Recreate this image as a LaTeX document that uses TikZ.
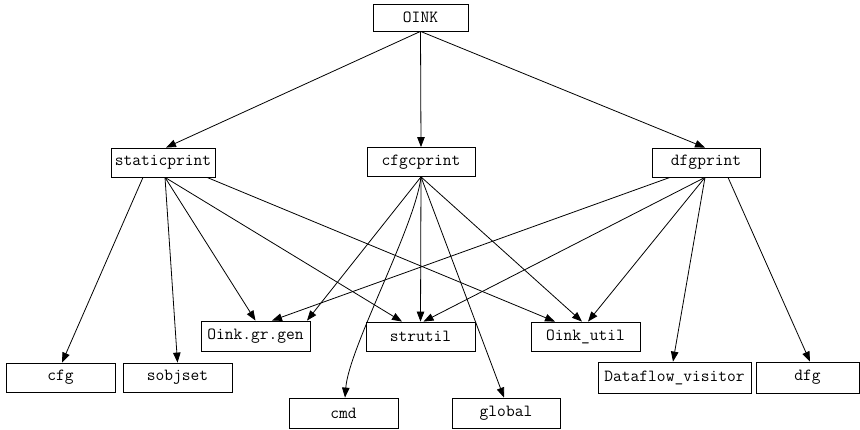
\documentclass[tikz,border=0pt]{standalone}
\usetikzlibrary{arrows.meta}
\begin{document}
\begin{tikzpicture}[x=1pt,y=-1pt,
  box/.style={draw,line width=0.8pt,minimum height=29pt,inner sep=0pt,font=\fontsize{17}{19}\selectfont\ttfamily},
  edge/.style={line width=0.8pt,-{Triangle[length=10pt,width=7.5pt]}}]
\useasboundingbox (0,0) rectangle (860,430);
\node[box,minimum width=95pt,minimum height=27pt] (oink) at (420.5,17.5) {OINK};
\node[box,minimum width=104pt] (sp) at (163,162.5) {staticprint};
\node[box,minimum width=108pt] (cp) at (421,162) {cfgcprint};
\node[box,minimum width=108pt] (dp) at (706,162.5) {dfgprint};
\node[box,minimum width=109pt,minimum height=30pt] (gr) at (255.5,336) {Oink.gr.gen};
\node[box,minimum width=109pt] (su) at (420.5,336.5) {strutil};
\node[box,minimum width=109pt] (ou) at (585.5,336.5) {Oink\_util};
\node[box,minimum width=109pt] (cfg) at (60.5,377.5) {cfg};
\node[box,minimum width=109pt] (so) at (177.5,377.5) {sobjset};
\node[box,minimum width=109pt,minimum height=30pt] (cmd) at (343.5,413) {cmd};
\node[box,minimum width=108pt,minimum height=30pt] (gl) at (506,413) {global};
\node[box,minimum width=153pt,minimum height=31pt] (dv) at (674.5,377.5) {Dataflow\_visitor};
\node[box,minimum width=103pt,minimum height=31pt] (dfg) at (807.5,377.5) {dfg};
% OINK
\draw[edge] (oink.south) -- ([xshift=3pt]sp.north);
\draw[edge] (oink.south) -- (cp.north);
\draw[edge] (oink.south) -- ([xshift=-1pt]dp.north);
% staticprint
\draw[edge] ([xshift=-20pt]sp.south) -- ([xshift=1.5pt]cfg.north);
\draw[edge] ([xshift=2pt]sp.south) -- (so.north);
\draw[edge] ([xshift=2pt]sp.south) -- (gr.north);
\draw[edge] ([xshift=2pt]sp.south) -- ([xshift=-18.5pt]su.north);
\draw[edge] ([xshift=44pt]sp.south) -- ([xshift=-30.5pt]ou.north);
% cfgcprint
\draw[edge] (cp.south) -- ([xshift=51.5pt]gr.north);
\draw[edge] (cp.south) -- (su.north);
\draw[edge] (cp.south) -- ([xshift=-3.5pt]ou.north);
\draw[edge] (cp.south) .. controls +(-6,50) and +(4,-50) .. ([xshift=1.5pt]cmd.north);
\draw[edge] (cp.south) -- ([xshift=-2pt]gl.north);
% dfgprint
\draw[edge] ([xshift=-36pt]dp.south) -- ([xshift=16.5pt]gr.north);
\draw[edge] ([xshift=-1pt]dp.south) -- ([xshift=3pt]su.north);
\draw[edge] ([xshift=-1pt]dp.south) -- ([xshift=2.5pt]ou.north);
\draw[edge] ([xshift=-1pt]dp.south) -- ([xshift=-1.5pt]dv.north);
\draw[edge] ([xshift=22pt]dp.south) -- ([xshift=2.5pt]dfg.north);
\end{tikzpicture}
\end{document}
